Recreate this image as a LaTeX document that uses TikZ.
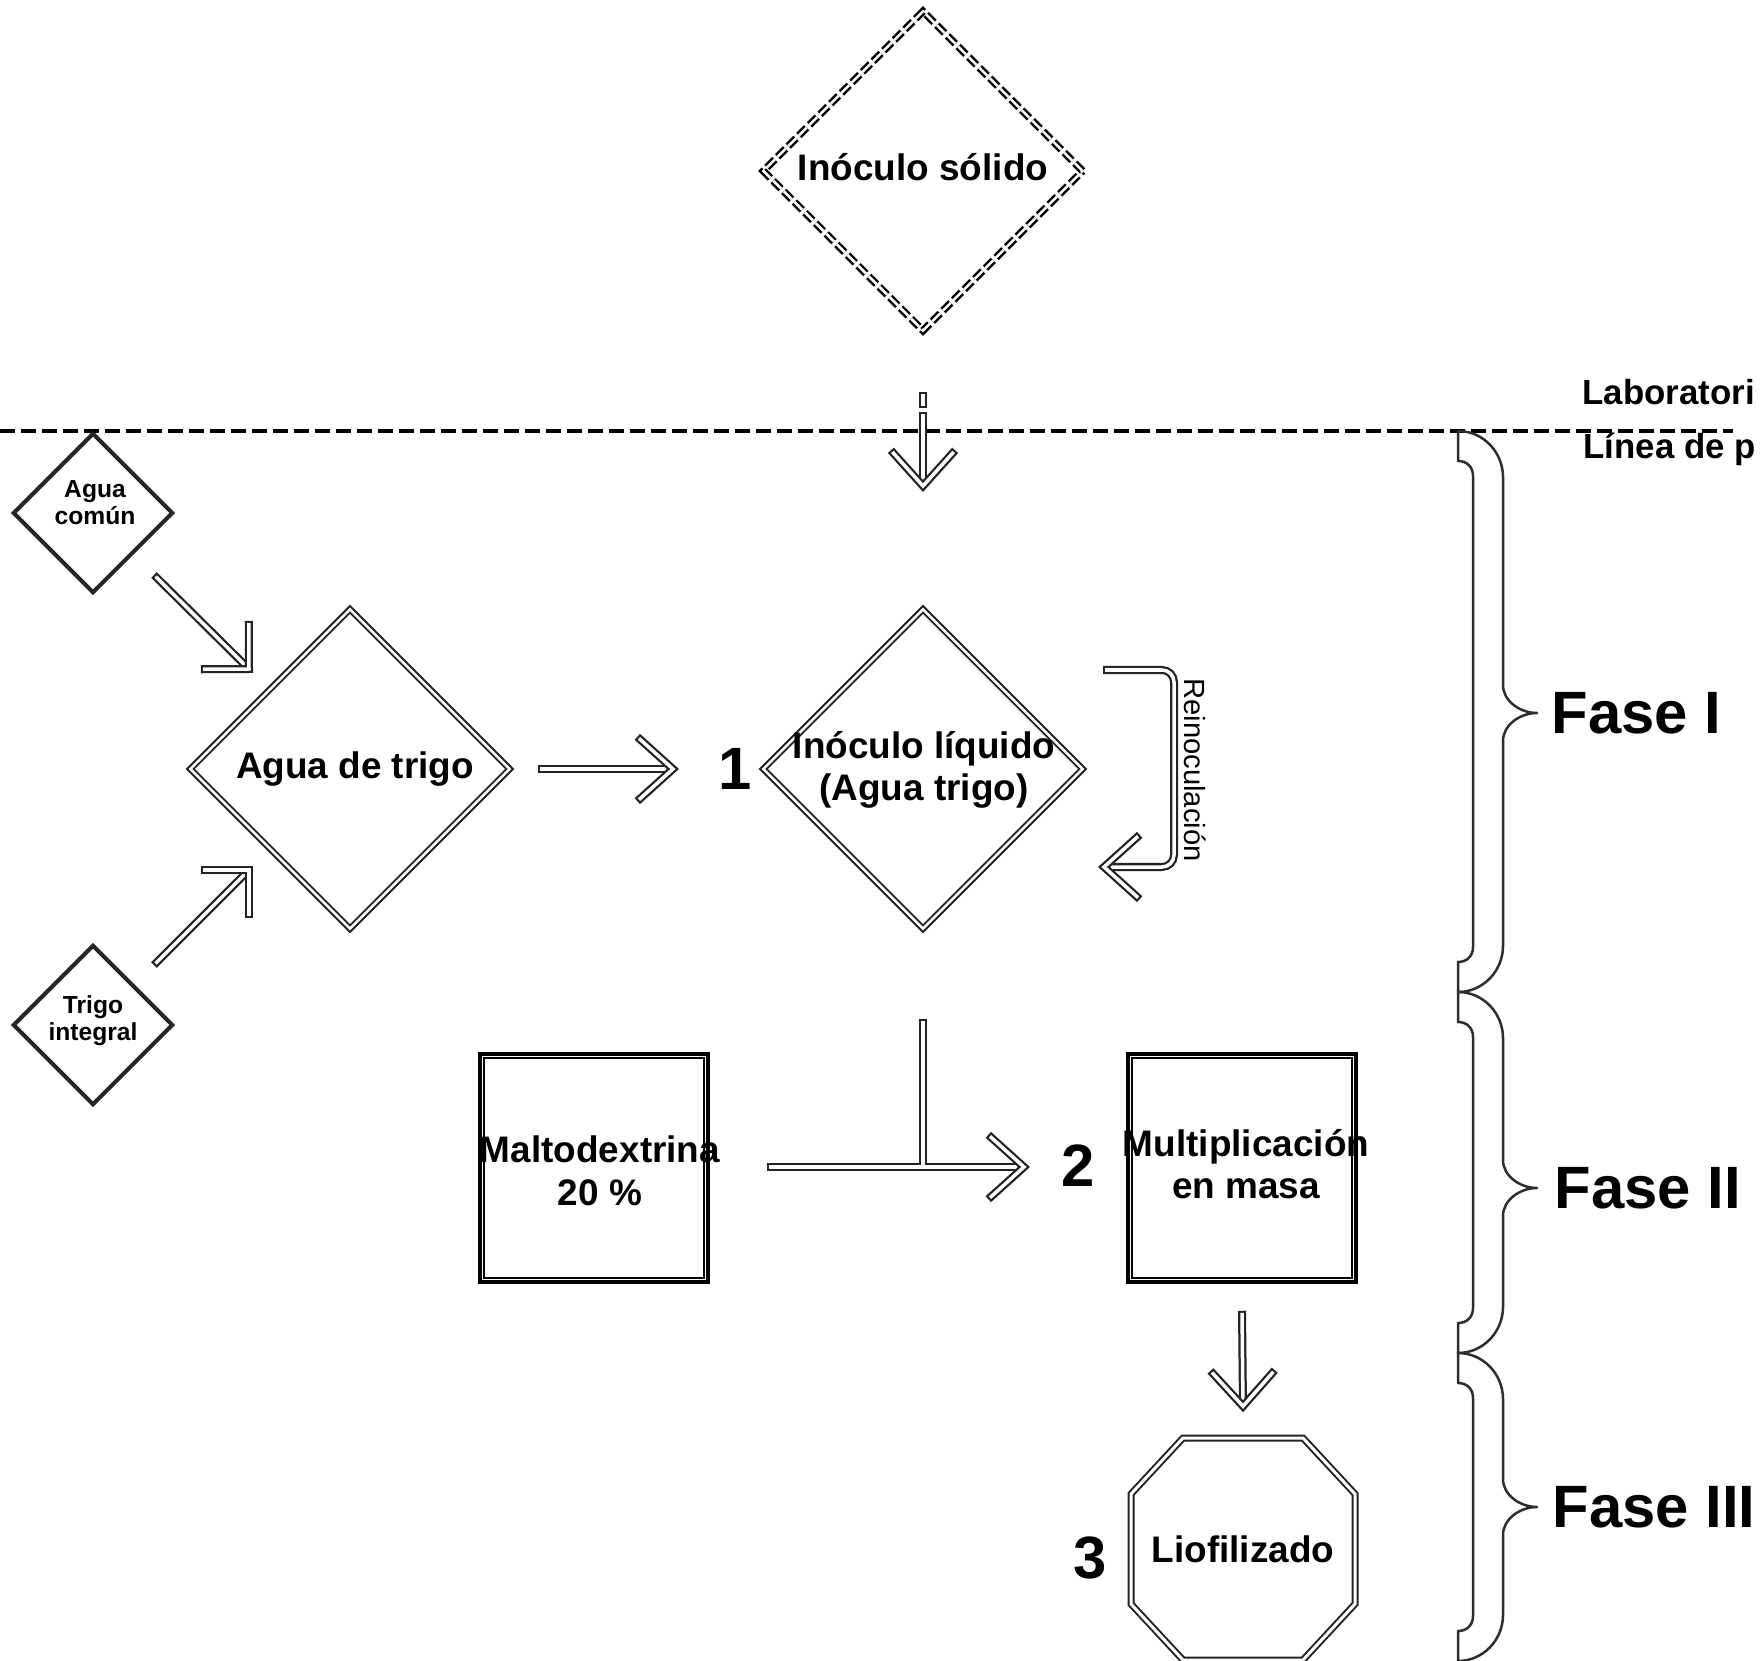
\documentclass[tikz,border=0pt]{standalone}
\usepackage{fontspec}
\setmainfont{Liberation Sans}
\usetikzlibrary{shapes.geometric,calc}
\definecolor{dk}{RGB}{35,35,40}
\definecolor{br}{RGB}{45,45,50}
\tikzset{
  dbout/.style={draw=dk, line width=0.08cm, line cap=butt, line join=miter},
  dbin/.style={draw=white, line width=0.035cm, line cap=butt, line join=miter, shorten <=0.022cm, shorten >=0.022cm},
  bigdia/.style={diamond, aspect=1, minimum width=3.2cm, minimum height=3.2cm, inner sep=0pt, draw=dk, double=white, line width=0.02cm, double distance=0.025cm},
  soldia/.style={bigdia, draw=black, line width=0.024cm, double distance=0.026cm, dash pattern=on 0.11cm off 0.04cm},
  smdia/.style={diamond, aspect=1, minimum width=1.6cm, minimum height=1.6cm, inner sep=0pt, draw=dk, line width=0.04cm},
  box/.style={rectangle, minimum width=2.28cm, minimum height=2.28cm, inner sep=0pt, draw=black, line width=0.034cm},
  innerbox/.style={draw=black, line width=0.018cm},
  octo/.style={draw=dk, double=white, line width=0.02cm, double distance=0.03cm, line join=miter},
  lbl/.style={font=\fontsize{10.5}{12.1}\selectfont\bfseries, align=center, inner sep=0pt},
  smlbl/.style={font=\fontsize{7}{7.7}\selectfont\bfseries, align=center, inner sep=0pt},
  num/.style={font=\fontsize{17}{20}\selectfont\bfseries, inner sep=0pt},
  fase/.style={font=\fontsize{17}{20}\selectfont\bfseries, inner sep=0pt, anchor=west},
  toplbl/.style={font=\fontsize{9.9}{12}\selectfont\bfseries, inner sep=0pt, anchor=base west},
  brc/.style={draw=br, line width=0.025cm, line join=round},
  sep/.style={draw=black, line width=0.032cm, dash pattern=on 0.15cm off 0.06cm}
}
\newcommand\dbhead[3][42]{%
  \draw[dbout] ($(#2)!0.48cm!#1:(#3)$) -- (#2) -- ($(#2)!0.48cm!-#1:(#3)$);
  \draw[dbin] ($(#2)!0.48cm!#1:(#3)$) -- (#2) -- ($(#2)!0.48cm!-#1:(#3)$);}
\newcommand\dbarrow[3][42]{%
  \draw[dbout] (#2) -- (#3);
  \draw[dbin] (#2) -- (#3);
  \dbhead[#1]{#3}{#2}}
\newcommand\phbrace[3]{%
  \draw[brc] (1458,#1) .. controls (1483,#1) and (1503,{#1+21}) .. (1503,{#1+46})
    -- (1503,{#2-28}) .. controls (1503,{#2-12}) and (1520,#2) .. (1537,#2)
    .. controls (1520,#2) and (1503,{#2+12}) .. (1503,{#2+28})
    -- (1503,{#3-46}) .. controls (1503,{#3-21}) and (1483,#3) .. (1458,#3)
    -- (1458,{#3-30}) .. controls (1467,{#3-30}) and (1473,{#3-36}) .. (1473,{#3-45})
    -- (1473,{#1+45}) .. controls (1473,{#1+36}) and (1467,{#1+30}) .. (1458,{#1+30})
    -- cycle;}
\begin{document}
\begin{tikzpicture}[x=0.01cm, y=-0.01cm]
\useasboundingbox (0,0) rectangle (1760,1661);
\fill[white] (0,0) rectangle (1760,1661);

% separator line and zone labels
\coordinate (dl1) at (0,431);
\coordinate (dl2) at (1733,431);
\draw[sep] (dl1) -- (dl2);
\node[toplbl] (lab) at (1582,405) {Laboratori};
\node[toplbl] (lin) at (1583,459) {Línea de p};

% nodes
\node[soldia] (sol) at (923,171) {};
\node[lbl] (solT) at (923,167) {Inóculo sólido};

\node[smdia] (ac) at (93,513) {};
\node[smlbl] (acT) at (95,503) {Agua\\común};
\node[smdia] (ti) at (93,1025) {};
\node[smlbl] (tiT) at (93,1021) {Trigo\\integral};

\node[bigdia] (at) at (350,769) {};
\node[lbl] (atT) at (355,769) {Agua de trigo};
\node[bigdia] (il) at (923,769) {};
\node[lbl] (ilT) at (924,770) {Inóculo líquido\\(Agua trigo)};

\node[box] (malt) at (594,1168) {};
\draw[innerbox] ($(malt.north west)+(6,6)$) rectangle ($(malt.south east)+(-6,-6)$);
\node[lbl] (maltT) at (600,1171) {Maltodextrina\\20 \%};
\node[box] (mult) at (1242,1168) {};
\draw[innerbox] ($(mult.north west)+(6,6)$) rectangle ($(mult.south east)+(-6,-6)$);
\node[lbl] (multT) at (1246,1164) {Multiplicación\\en masa};

\node[lbl, minimum width=2.24cm, minimum height=2.22cm] (lio) at (1243,1549) {Liofilizado};
\draw[octo] ($(lio.center)+(-60,-111)$) -- ($(lio.center)+(60,-111)$) -- ($(lio.center)+(112,-55)$)
  -- ($(lio.center)+(112,55)$) -- ($(lio.center)+(60,111)$) -- ($(lio.center)+(-60,111)$)
  -- ($(lio.center)+(-112,55)$) -- ($(lio.center)+(-112,-55)$) -- cycle;

\node[num] (n1) at (735,769) {1};
\node[num] (n2) at (1078,1166) {2};
\node[num] (n3) at (1090,1558) {3};

\node[fase] (f1) at (1551,713) {Fase I};
\node[fase] (f2) at (1554,1188) {Fase II};
\node[fase] (f3) at (1552,1507) {Fase III};

\node[rotate=-90, font=\fontsize{8.3}{10}\selectfont, inner sep=0pt] (reT) at (1195,770) {Reinoculación};

% braces
\phbrace{431}{713}{992}
\phbrace{992}{1188}{1353}
\phbrace{1353}{1507}{1661}

% connectors
\coordinate (a1s) at (154,575); \coordinate (a1e) at (249,669);
\coordinate (a2s) at (154,965); \coordinate (a2e) at (249,870);
\coordinate (a3s) at (538,769); \coordinate (a3e) at (673,769);
\coordinate (a4s) at (923,392); \coordinate (a4e) at (923,486);
\coordinate (re1) at (1103,670); \coordinate (rc) at (1174,867); \coordinate (re2) at (1104,867);
\coordinate (a6s) at (767,1167); \coordinate (a6e) at (1024,1167);
\coordinate (vt) at (923,1019); \coordinate (vj) at (923,1167);
\coordinate (a8s) at ($(mult.south)+(0,27)$); \coordinate (a8e) at ($(lio.north)+(0,-31)$);

\dbarrow[45]{a1s}{a1e}
\dbarrow[45]{a2s}{a2e}
\dbarrow{a3s}{a3e}

% dashed entry arrow
\draw[dbout, dash pattern=on 0.16cm off 0.04cm on 3cm] (a4s) -- (a4e);
\draw[dbin, shorten >=0pt, dash pattern=on 0.116cm off 0.084cm on 3cm] (a4s) -- (a4e);
\dbhead{a4e}{a4s}

% reinoculation loop
\draw[dbout, rounded corners=0.12cm] (re1) -| (rc) -- (re2);
\draw[dbin, rounded corners=0.12cm] (re1) -| (rc) -- (re2);
\dbhead{re2}{rc}

% T junction into multiplication
\draw[dbout] (a6s) -- (a6e);
\draw[dbin] (a6s) -- (a6e);
\draw[dbout] (vt) -- ([yshift=0.0175cm]vj);
\draw[dbin, shorten >=0pt] (vt) -- (vj);
\dbhead{a6e}{a6s}

\dbarrow{a8s}{a8e}
\end{tikzpicture}
\end{document}
